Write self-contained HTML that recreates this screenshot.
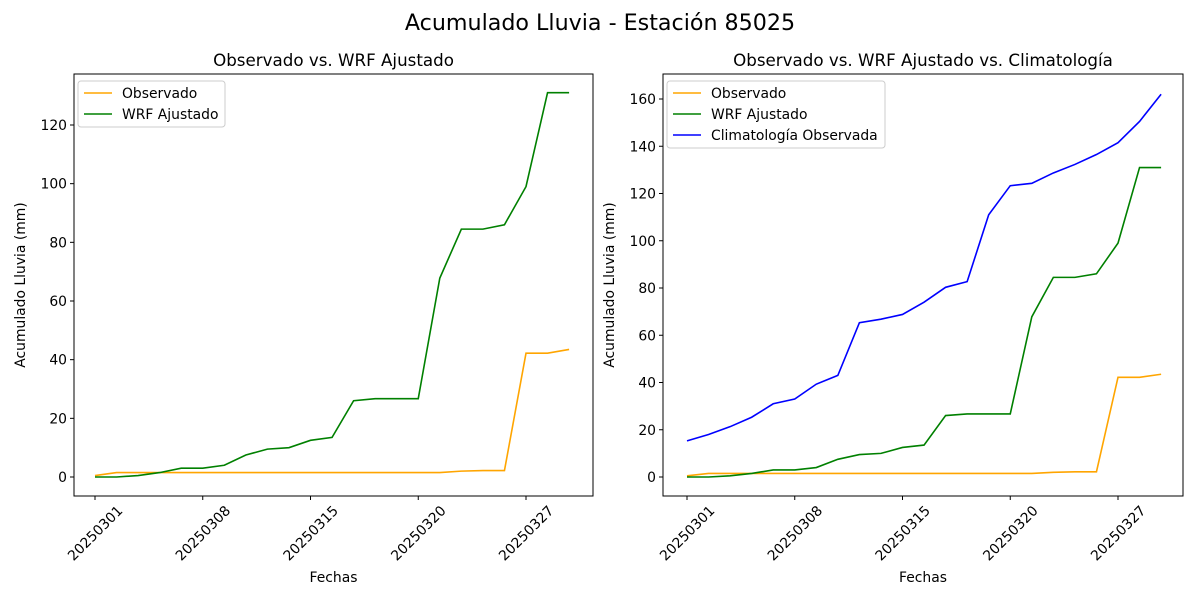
<!DOCTYPE html>
<html><head><meta charset="utf-8"><style>body{margin:0;background:#fff}svg{display:block;font-family:"DejaVu Sans","Liberation Sans",sans-serif}</style></head>
<body>
<svg id="s" width="1200" height="600" xmlns="http://www.w3.org/2000/svg">
<rect width="1200" height="600" fill="#fff"/>
<text x="600" y="30" font-size="22.2" text-anchor="middle">Acumulado Lluvia - Estación 85025</text>
</svg>
<script>
const S=document.getElementById('s');const NS='http://www.w3.org/2000/svg';
function el(t,a,txt){const e=document.createElementNS(NS,t);for(const k in a)e.setAttribute(k,a[k]);if(txt!==undefined)e.textContent=txt;S.appendChild(e);return e;}
const green=[0,0,0.5,1.5,3,3,4,7.5,9.5,10,12.5,13.5,26,26.7,26.7,26.7,67.8,84.5,84.5,86,99,131,131];
const orange=[0.5,1.5,1.5,1.5,1.5,1.5,1.5,1.5,1.5,1.5,1.5,1.5,1.5,1.5,1.5,1.5,1.5,2,2.2,2.2,42.2,42.2,43.5];
const blue=[15.3,18,21.3,25.3,31,33,39.3,43,65.3,66.8,68.8,74,80.3,82.7,111,123.3,124.3,128.7,132.3,136.5,141.5,150.5,162];
const dates=['20250301','20250308','20250315','20250320','20250327'];
const FS=13.9;
function axes(L,R,x0,step,y0,ppu,ymax,title,series,legend,lw){
 const T=74,B=496;
 el('text',{x:(L+R)/2,y:66,'font-size':16.7,'text-anchor':'middle'},title);
 for(let v=0;v<=ymax;v+=20){const y=y0-v*ppu;el('line',{x1:L-4,x2:L,y1:y,y2:y,stroke:'#000'});el('text',{x:L-7,y:y+5,'font-size':FS,'text-anchor':'end'},v);}
 dates.forEach((d,i)=>{const x=x0+i*5*step;el('line',{x1:x,x2:x,y1:B,y2:B+4,stroke:'#000'});el('text',{x:x,y:538,'font-size':FS,'text-anchor':'middle',transform:`rotate(-45 ${x} 533)`},d);});
 el('text',{x:(L+R)/2,y:582,'font-size':FS,'text-anchor':'middle'},'Fechas');
 el('text',{x:0,y:0,'font-size':FS,'text-anchor':'middle',transform:`translate(${L-49} ${(T+B)/2}) rotate(-90)`},'Acumulado Lluvia (mm)');
 series.forEach(([d,c])=>{el('polyline',{points:d.map((v,i)=>(x0+i*step)+','+(y0-v*ppu)).join(' '),fill:'none',stroke:c,'stroke-width':1.6});});
 el('rect',{x:L,y:T,width:R-L,height:B-T,fill:'none',stroke:'#000','stroke-width':1});
 const lh=21,lx=L+4,ly=T+7;
 el('rect',{x:lx,y:ly,width:lw,height:legend.length*lh+4,fill:'#fff',stroke:'#ccc',rx:3});
 legend.forEach(([n,c],i)=>{const y=ly+12+i*lh;el('line',{x1:lx+6,x2:lx+34,y1:y,y2:y,stroke:c,'stroke-width':1.6});el('text',{x:lx+44,y:y+5,'font-size':FS},n);});
}
axes(74,593,95,21.55,477,352/120,120,'Observado vs. WRF Ajustado',[[orange,'orange'],[green,'green']],[['Observado','orange'],['WRF Ajustado','green']],147);
axes(663,1183,687,21.55,477,378/160,160,'Observado vs. WRF Ajustado vs. Climatología',[[orange,'orange'],[green,'green'],[blue,'blue']],[['Observado','orange'],['WRF Ajustado','green'],['Climatología Observada','blue']],218);
</script>
</body></html>
